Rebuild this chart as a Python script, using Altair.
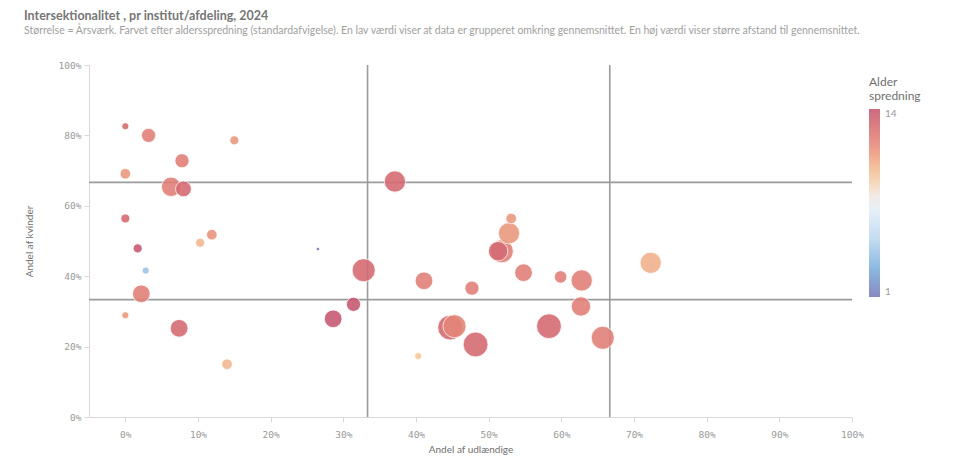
import altair as alt
import pandas as pd

# Andel af udlændige (x), Andel af kvinder (y), Årsværk (size), Alder spredning (color)
udl = [0.000, 0.032, 0.150, 0.078, 0.000, 0.063, 0.080, 0.000, 0.119, 0.103,
       0.017, 0.028, 0.022, 0.000, 0.074, 0.140, 0.371, 0.265, 0.328, 0.411,
       0.477, 0.314, 0.286, 0.447, 0.453, 0.482, 0.403, 0.531, 0.528, 0.518,
       0.513, 0.548, 0.599, 0.628, 0.627, 0.583, 0.657, 0.723]
kvinder = [0.826, 0.800, 0.786, 0.728, 0.691, 0.654, 0.648, 0.564, 0.518, 0.495,
           0.479, 0.416, 0.350, 0.289, 0.252, 0.150, 0.669, 0.477, 0.417, 0.387,
           0.366, 0.320, 0.279, 0.254, 0.258, 0.206, 0.173, 0.564, 0.522, 0.471,
           0.471, 0.410, 0.398, 0.388, 0.314, 0.258, 0.225, 0.438]
aarsvaerk = [8, 32, 13, 32, 18, 60, 40, 13, 18, 13,
             13, 8, 50, 8, 50, 18, 72, 2, 85, 50,
             32, 32, 50, 98, 85, 98, 8, 18, 72, 85,
             60, 50, 25, 72, 60, 98, 85, 72]
spredning = [13, 12, 11, 12, 11, 12, 13, 13, 11.2, 10,
             14, 4, 12, 11, 13, 10, 13, 1, 13, 12,
             12, 14, 14, 13, 11.8, 13, 9.5, 11, 11, 12,
             13, 12, 12, 12, 12, 13, 12, 10.2]

ref_lines = [1 / 3, 2 / 3]
x_ticks = [0, 0.1, 0.2, 0.3, 0.4, 0.5, 0.6, 0.7, 0.8, 0.9, 1.0]
y_ticks = [0, 0.2, 0.4, 0.6, 0.8, 1.0]

color_domain = [1, 3, 5, 7.5, 9.5, 11, 12.5, 14]
color_range = ["#7a7cba", "#7fb2dc", "#bcd8ef", "#eef3f8", "#f6c79a",
               "#eb9a80", "#dc7575", "#c65a73"]

df = pd.DataFrame({"Andel af udlændige": udl, "Andel af kvinder": kvinder,
                   "Årsværk": aarsvaerk, "Alder spredning": spredning})
df = df.sort_values("Årsværk", ascending=False)

AX = "DejaVu Sans Mono"
SANS = "Lato"

xscale = alt.Scale(domain=[-0.05, 1.0], nice=False, zero=False)
yscale = alt.Scale(domain=[0, 1.0], nice=False)

vlines = alt.Chart(pd.DataFrame({"v": ref_lines})).mark_rule(
    color="#9b9b9b", strokeWidth=1.6
).encode(x=alt.X("v:Q", scale=xscale))

hlines = alt.Chart(pd.DataFrame({"h": ref_lines})).mark_rule(
    color="#9b9b9b", strokeWidth=1.6
).encode(y=alt.Y("h:Q", scale=yscale))

points = alt.Chart(df).mark_circle(
    opacity=0.9, stroke="white", strokeWidth=0.8
).encode(
    x=alt.X("Andel af udlændige:Q", scale=xscale,
            axis=alt.Axis(values=x_ticks, format=".0%", title="Andel af udlændige",
                          grid=False, domainColor="#d9d9d9", tickColor="#d9d9d9",
                          tickSize=5, labelPadding=7, labelFlush=False,
                          labelFont=AX, labelFontSize=9.5,
                          labelColor="#9a9a9a", titleFont=SANS, titleFontSize=10,
                          titleFontWeight="normal", titleColor="#707070",
                          titlePadding=6)),
    y=alt.Y("Andel af kvinder:Q", scale=yscale,
            axis=alt.Axis(values=y_ticks, format=".0%", title="Andel af kvinder",
                          grid=False, domainColor="#d9d9d9", tickColor="#d9d9d9",
                          tickSize=5, labelPadding=3, labelFlush=False,
                          labelFont=AX, labelFontSize=9.5,
                          labelColor="#9a9a9a", titleFont=SANS, titleFontSize=10,
                          titleFontWeight="normal", titleColor="#707070",
                          titlePadding=24)),
    size=alt.Size("Årsværk:Q", scale=alt.Scale(domain=[0, 98], range=[0, 616]),
                  legend=None),
    color=alt.Color("Alder spredning:Q",
                    scale=alt.Scale(domain=color_domain, range=color_range,
                                    interpolate="rgb"),
                    legend=alt.Legend(orient="none", legendX=780, legendY=12,
                                      title=["Alder", "spredning"],
                                      values=[1, 14], gradientLength=188,
                                      gradientThickness=11, gradientStrokeWidth=0,
                                      titleFont=SANS, titleFontSize=12,
                                      titleFontWeight="normal", titleColor="#707070",
                                      titleLineHeight=14, titlePadding=6,
                                      labelFont=SANS, labelFontSize=10,
                                      labelColor="#9a9a9a", labelOffset=5)),
)

chart = alt.layer(vlines, hlines, points).properties(
    width=763, height=352,
    autosize=alt.AutoSizeParams(type="none"),
    padding={"left": 81, "top": 57, "right": 95, "bottom": 40},
    title=alt.TitleParams(
        text="Intersektionalitet , pr institut/afdeling, 2024",
        subtitle="Størrelse = Årsværk. Farvet efter aldersspredning (standardafvigelse). "
                 "En lav værdi viser at data er grupperet omkring gennemsnittet. "
                 "En høj værdi viser større afstand til gennemsnittet.",
        anchor="start", frame="group", dx=-65, offset=24,
        font=SANS, fontSize=12.5, fontWeight="bold", color="#767676",
        subtitleFont=SANS, subtitleFontSize=10.5, subtitleColor="#a0a0a0",
        subtitlePadding=3),
).configure_view(stroke=None)

chart.save("out.html", embed_options={"renderer": "svg", "actions": False})
